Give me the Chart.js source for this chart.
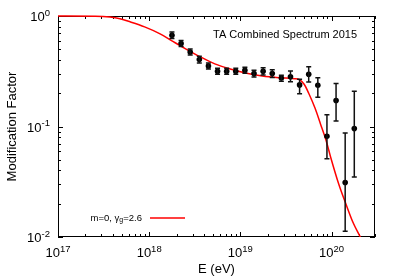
<!DOCTYPE html>
<html>
<head>
<meta charset="utf-8">
<script src="https://cdn.jsdelivr.net/npm/chart.js@4.4.0/dist/chart.umd.min.js"></script>
<style>
  html, body { margin: 0; padding: 0; background: #fff; }
</style>
</head>
<body>
<canvas id="myChart" width="400" height="280"></canvas>
<script>
// TA combined spectrum bins (log10 of E in eV)
const binLogE = [18.25, 18.35, 18.45, 18.55, 18.65, 18.75, 18.85, 18.95, 19.05, 19.15, 19.25,
                 19.35, 19.45, 19.55, 19.65, 19.75, 19.85, 19.95, 20.05, 20.15, 20.25];
const factor = [0.669, 0.563, 0.472, 0.403, 0.353, 0.316, 0.316, 0.316, 0.323, 0.301, 0.316,
                0.301, 0.275, 0.282, 0.238, 0.297, 0.236, 0.0815, 0.172, 0.0311, 0.0957];
const factorLow = [0.625, 0.529, 0.444, 0.376, 0.331, 0.297, 0.297, 0.297, 0.303, 0.281, 0.293,
                   0.277, 0.257, 0.254, 0.198, 0.253, 0.184, 0.0512, 0.112, 0.0113, 0.0349];
const factorHigh = [0.716, 0.599, 0.503, 0.432, 0.376, 0.336, 0.336, 0.336, 0.343, 0.323, 0.340,
                    0.327, 0.291, 0.318, 0.267, 0.347, 0.276, 0.128, 0.245, 0.0873, 0.208];

// model curve m=0, gamma_g=2.6
const curveLogE = [17.0, 17.41, 17.57, 17.68, 17.79, 17.95, 18.12, 18.25, 18.39, 18.56, 18.72, 18.88,
                   19.07, 19.24, 19.43, 19.59, 19.65, 19.70, 19.75, 19.82, 19.88, 19.94, 19.99, 20.08,
                   20.16, 20.24, 20.32, 20.36];
const curveFactor = [1.0, 0.996, 0.977, 0.943, 0.886, 0.798, 0.690, 0.596, 0.510, 0.427, 0.369, 0.333,
                     0.303, 0.286, 0.276, 0.271, 0.265, 0.241, 0.200, 0.146, 0.105, 0.0751, 0.0530, 0.0300,
                     0.0197, 0.0133, 0.00984, 0.0083];

const xTickExps = [17, 18, 19, 20];
const yTickExps = [0, -1, -2];

const fontName = '"Liberation Sans", Arial, sans-serif';

// "10" with a raised exponent
function powerLabel(ctx, exp, x, y, align) {
    const base = '10';
    const sup = String(exp);
    ctx.font = `13px ${fontName}`;
    const wb = ctx.measureText(base).width;
    ctx.font = `9.5px ${fontName}`;
    const ws = ctx.measureText(sup).width;
    const left = align === 'right' ? x - wb - ws : x - (wb + ws) / 2;
    ctx.textAlign = 'left';
    ctx.textBaseline = 'alphabetic';
    ctx.font = `13px ${fontName}`;
    ctx.fillText(base, left, y);
    ctx.font = `9.5px ${fontName}`;
    ctx.fillText(sup, left + wb, y - 5.5);
}

// border and ticks go under the data
const frame = {
    id: 'frame',
    beforeDatasetsDraw(chart) {
        const { ctx, chartArea: a, scales: { x, y } } = chart;
        ctx.save();
        ctx.strokeStyle = '#000';
        ctx.lineWidth = 1;

        ctx.beginPath();
        xTickExps.forEach(e => {
            for (let k = 1; k <= 9; k++) {
                const v = k * Math.pow(10, e);
                if (v < x.min || v > x.max) continue;
                const px = Math.round(x.getPixelForValue(v)) + 0.5;
                const len = k === 1 ? 5 : 3;
                ctx.moveTo(px, a.bottom); ctx.lineTo(px, a.bottom - len);
                ctx.moveTo(px, a.top); ctx.lineTo(px, a.top + len);
            }
        });
        yTickExps.forEach(e => {
            for (let k = 1; k <= 9; k++) {
                const v = k * Math.pow(10, e);
                if (v < y.min * 0.999 || v > y.max * 1.001) continue;
                const py = Math.round(y.getPixelForValue(v)) + 0.5;
                const len = k === 1 ? 5 : 3;
                ctx.moveTo(a.left, py); ctx.lineTo(a.left + len, py);
                ctx.moveTo(a.right, py); ctx.lineTo(a.right - len, py);
            }
        });
        ctx.stroke();

        ctx.strokeRect(a.left + 0.5, a.top + 0.5, a.width - 1, a.height - 1);
        ctx.restore();
    }
};

const errorBars = {
    id: 'errorBars',
    afterDatasetsDraw(chart) {
        const { ctx, chartArea: a, scales: { x, y } } = chart;
        ctx.save();
        ctx.beginPath();
        ctx.rect(a.left, a.top, a.width, a.height);
        ctx.clip();
        ctx.strokeStyle = '#111';
        ctx.lineWidth = 1.5;
        binLogE.forEach((l, i) => {
            const px = x.getPixelForValue(Math.pow(10, l));
            const top = y.getPixelForValue(factorHigh[i]);
            const bot = y.getPixelForValue(factorLow[i]);
            ctx.beginPath();
            ctx.moveTo(px, top); ctx.lineTo(px, bot);
            ctx.moveTo(px - 2.5, top); ctx.lineTo(px + 2.5, top);
            ctx.moveTo(px - 2.5, bot); ctx.lineTo(px + 2.5, bot);
            ctx.stroke();
        });
        ctx.restore();
    }
};

const labels = {
    id: 'labels',
    afterDraw(chart) {
        const { ctx, chartArea: a, scales: { x, y } } = chart;
        ctx.save();
        ctx.fillStyle = '#000';

        xTickExps.forEach(e => {
            powerLabel(ctx, e, x.getPixelForValue(Math.pow(10, e)), a.bottom + 20, 'center');
        });
        yTickExps.forEach(e => {
            powerLabel(ctx, e, a.left - 8, y.getPixelForValue(Math.pow(10, e)) + 5, 'right');
        });

        // axis titles
        ctx.font = `13px ${fontName}`;
        ctx.textAlign = 'center';
        ctx.textBaseline = 'middle';
        ctx.fillText('E (eV)', (a.left + a.right) / 2, 269);
        ctx.save();
        ctx.translate(12, (a.top + a.bottom) / 2);
        ctx.rotate(-Math.PI / 2);
        ctx.fillText('Modification Factor', 0, 0);
        ctx.restore();

        // data label
        ctx.font = `11px ${fontName}`;
        ctx.textAlign = 'left';
        ctx.textBaseline = 'alphabetic';
        ctx.fillText('TA Combined Spectrum 2015', 213, 38);

        // key
        const keyY = 218;
        ctx.textBaseline = 'middle';
        const parts = [['m=0, γ', 9.5, 0], ['g', 7, 2.5], ['=2.6', 9.5, 0]];
        let total = 0;
        parts.forEach(p => { ctx.font = `${p[1]}px ${fontName}`; total += ctx.measureText(p[0]).width; });
        let cx = 142 - total;
        parts.forEach(p => {
            ctx.font = `${p[1]}px ${fontName}`;
            ctx.fillText(p[0], cx, keyY + p[2]);
            cx += ctx.measureText(p[0]).width;
        });
        ctx.strokeStyle = '#ff0000';
        ctx.lineWidth = 1.5;
        ctx.beginPath();
        ctx.moveTo(150, keyY); ctx.lineTo(185, keyY);
        ctx.stroke();

        ctx.restore();
    }
};

const ctx = document.querySelector('#myChart');
new Chart(ctx, {
    type: 'scatter',
    data: {
        datasets: [{
            label: 'TA',
            data: binLogE.map((l, i) => ({ x: Math.pow(10, l), y: factor[i] })),
            pointRadius: 2.8,
            pointBackgroundColor: '#000',
            pointBorderWidth: 0,
            showLine: false
        }, {
            label: 'm=0',
            data: curveLogE.map((l, i) => ({ x: Math.pow(10, l), y: curveFactor[i] })),
            showLine: true,
            borderColor: '#ff0000',
            borderWidth: 1.5,
            pointRadius: 0,
            cubicInterpolationMode: 'monotone',
            clip: { left: 0, top: 2, right: 0, bottom: 0 }
        }]
    },
    options: {
        responsive: false,
        animation: false,
        devicePixelRatio: 1,
        layout: { padding: { left: 58, right: 25, top: 16, bottom: 43 } },
        plugins: { legend: { display: false }, tooltip: { enabled: false } },
        scales: {
            x: { type: 'logarithmic', min: 1e17, max: 3e20, display: false },
            y: { type: 'logarithmic', min: 0.01, max: 1, display: false }
        }
    },
    plugins: [frame, errorBars, labels]
});
</script>
</body>
</html>
